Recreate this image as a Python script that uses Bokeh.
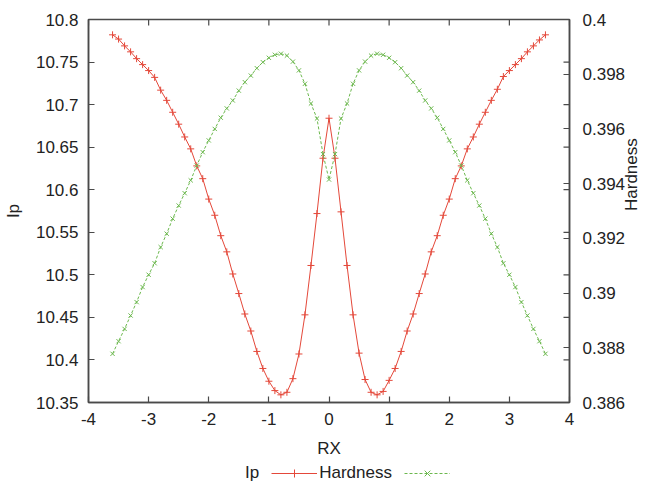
import numpy as np
from bokeh.plotting import figure
from bokeh.layouts import column
from bokeh.models import Range1d, LinearAxis, FixedTicker, Legend, LegendItem, ColumnDataSource
from bokeh.embed import file_html
from bokeh.resources import INLINE

# ---- data ----
rx = [round(-3.6 + 0.1 * i, 1) for i in range(73)]

ip = [10.782, 10.777, 10.769, 10.762, 10.754, 10.747, 10.740, 10.732, 10.717, 10.705,
      10.691, 10.677, 10.662, 10.648, 10.628, 10.613, 10.589, 10.570, 10.546, 10.527,
      10.501, 10.478, 10.454, 10.434, 10.410, 10.390, 10.375, 10.364, 10.359, 10.362,
      10.378, 10.407, 10.453, 10.511, 10.572, 10.637,
      10.684,
      10.637, 10.574, 10.511, 10.453, 10.408, 10.377, 10.362, 10.359, 10.363, 10.376,
      10.390, 10.410, 10.434, 10.454, 10.478, 10.501, 10.527, 10.546, 10.570, 10.589,
      10.613, 10.628, 10.648, 10.662, 10.677, 10.691, 10.705, 10.718, 10.733, 10.740,
      10.747, 10.754, 10.762, 10.769, 10.776, 10.782]

hardness = [0.38778, 0.38824, 0.38869, 0.38918, 0.38967, 0.39022, 0.39067, 0.39109, 0.39168, 0.39217,
            0.39272, 0.39320, 0.39365, 0.39412, 0.39466, 0.39515, 0.39558, 0.39600, 0.39641, 0.39675,
            0.39704, 0.39740, 0.39771, 0.39795, 0.39822, 0.39844, 0.39860, 0.39871, 0.39875, 0.39868,
            0.39846, 0.39814, 0.39765, 0.39693, 0.39638, 0.39508,
            0.39415,
            0.39508, 0.39638, 0.39693, 0.39765, 0.39814, 0.39846, 0.39868, 0.39875, 0.39871, 0.39860,
            0.39844, 0.39822, 0.39795, 0.39771, 0.39740, 0.39704, 0.39675, 0.39641, 0.39600, 0.39558,
            0.39515, 0.39466, 0.39412, 0.39365, 0.39320, 0.39272, 0.39217, 0.39168, 0.39109, 0.39067,
            0.39022, 0.38967, 0.38918, 0.38869, 0.38824, 0.38778]

x_ticks = [-4, -3, -2, -1, 0, 1, 2, 3, 4]
x_tick_labels = ["-4", "-3", "-2", "-1", "0", "1", "2", "3", "4"]
ip_ticks = [10.35, 10.4, 10.45, 10.5, 10.55, 10.6, 10.65, 10.7, 10.75, 10.8]
ip_tick_labels = ["10.35", "10.4", "10.45", "10.5", "10.55", "10.6", "10.65", "10.7", "10.75", "10.8"]
h_ticks = [0.386, 0.388, 0.39, 0.392, 0.394, 0.396, 0.398, 0.4]
h_tick_labels = ["0.386", "0.388", "0.39", "0.392", "0.394", "0.396", "0.398", "0.4"]

RED = "#e4483a"
GREEN = "#6cb84e"
FONT = "Liberation Sans"
FS = "17px"
TXT = "#222222"
BORDER = "#4a4a4a"

src = ColumnDataSource(dict(rx=rx, ip=ip, hardness=hardness))

p = figure(width=653, height=463, output_backend="svg", toolbar_location=None,
           x_range=Range1d(-4, 4), y_range=Range1d(10.35, 10.8),
           min_border_left=88, min_border_right=83, min_border_top=19, min_border_bottom=61)
p.extra_y_ranges = {"h": Range1d(0.386, 0.4)}
p.grid.visible = False
p.outline_line_color = BORDER
p.outline_line_width = 1.5
p.background_fill_color = "white"
p.border_fill_color = "white"

def style_axis(ax, standoff, label_standoff):
    ax.major_tick_in = 6
    ax.major_tick_out = 0
    ax.minor_tick_line_color = None
    ax.axis_line_color = BORDER
    ax.axis_line_width = 1.5
    ax.major_tick_line_color = BORDER
    ax.major_tick_line_width = 1.2
    ax.major_label_text_font = FONT
    ax.major_label_text_font_size = FS
    ax.major_label_text_color = TXT
    ax.axis_label_text_font = FONT
    ax.axis_label_text_font_size = FS
    ax.axis_label_text_font_style = "normal"
    ax.axis_label_text_color = TXT
    ax.major_label_standoff = standoff
    ax.axis_label_standoff = label_standoff

xa = p.xaxis[0]
xa.ticker = FixedTicker(ticks=x_ticks)
xa.major_label_overrides = dict(zip(x_ticks, x_tick_labels))
xa.axis_label = "RX"
style_axis(xa, 10, 11)

ya = p.yaxis[0]
ya.ticker = FixedTicker(ticks=ip_ticks)
ya.major_label_overrides = dict(zip(ip_ticks, ip_tick_labels))
ya.axis_label = "Ip"
style_axis(ya, 10, 10)

y2 = LinearAxis(y_range_name="h", axis_label="Hardness")
y2.ticker = FixedTicker(ticks=h_ticks)
y2.major_label_overrides = dict(zip(h_ticks, h_tick_labels))
style_axis(y2, 13, 3)
y2.axis_label_orientation = np.pi / 2
p.add_layout(y2, "right")

# mirrored ticks (gnuplot style) on top and right borders
p.ray(x=[4] * len(ip_ticks), y=ip_ticks, length=6, length_units="screen", angle=np.pi,
      line_color=BORDER, line_width=1.2)
p.ray(x=x_ticks, y=[10.8] * len(x_ticks), length=6, length_units="screen", angle=-np.pi / 2,
      line_color=BORDER, line_width=1.2)

# series
p.line("rx", "ip", source=src, line_color=RED, line_width=1)
p.scatter("rx", "ip", source=src, marker="cross", size=7, line_color=RED, line_width=1)
p.line("rx", "hardness", source=src, y_range_name="h", line_color=GREEN, line_width=1,
       line_dash="3 2")
p.scatter("rx", "hardness", source=src, y_range_name="h", marker="x", size=6,
          line_color=GREEN, line_width=1)

# ---- key strip below the plot, gnuplot style: "Ip ——+——  Hardness --x--" ----
# (its renderers use the same data, outside this strip's ranges: only the key samples show)
lf = figure(width=653, height=20, output_backend="svg", toolbar_location=None,
            x_range=Range1d(100, 101), y_range=Range1d(100, 101),
            x_axis_type=None, y_axis_type=None,
            min_border=0, min_border_left=88, min_border_right=83, min_border_top=0,
            min_border_bottom=0)
lf.grid.visible = False
lf.outline_line_color = None
k_ip_l = lf.line("rx", "ip", source=src, line_color=RED, line_width=1)
k_ip_m = lf.scatter("rx", "ip", source=src, marker="cross", size=7, line_color=RED, line_width=1)
k_h_l = lf.line("rx", "hardness", source=src, line_color=GREEN, line_width=1, line_dash="3 2")
k_h_m = lf.scatter("rx", "hardness", source=src, marker="x", size=6, line_color=GREEN, line_width=1)

legend = Legend(items=[LegendItem(label="Ip", renderers=[]),
                       LegendItem(label="Hardness", renderers=[k_ip_l, k_ip_m]),
                       LegendItem(label="", renderers=[k_h_l, k_h_m])],
                location=(109, 0), orientation="horizontal",
                glyph_width=46, glyph_height=20, label_width=0, label_height=20,
                label_standoff=2, spacing=12,
                label_text_font=FONT, label_text_font_size=FS, label_text_color=TXT,
                padding=0, margin=0,
                border_line_alpha=0, background_fill_alpha=0)
lf.add_layout(legend)

layout = column(p, lf, spacing=0)
open("out.html", "w").write(file_html(layout, INLINE))
